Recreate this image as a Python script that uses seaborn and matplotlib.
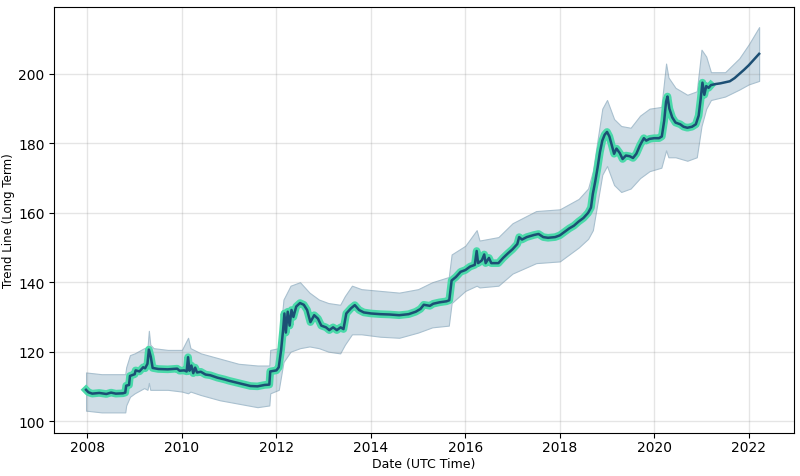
import numpy as np
import pandas as pd
import seaborn as sns
import matplotlib
matplotlib.use("Agg")
import matplotlib.pyplot as plt

# fitted trend (decimal year, value)
fit_years = [2007.97, 2008.02, 2008.10, 2008.25, 2008.40, 2008.50, 2008.60, 2008.75, 2008.80, 2008.82,
             2008.88, 2008.90, 2009.00, 2009.02, 2009.10, 2009.18, 2009.22, 2009.27, 2009.30, 2009.34,
             2009.38, 2009.50, 2009.70, 2009.90, 2009.95, 2010.05, 2010.10, 2010.13, 2010.16, 2010.20,
             2010.24, 2010.28, 2010.32, 2010.40, 2010.50, 2010.60, 2010.75, 2010.90, 2011.00, 2011.15,
             2011.30, 2011.45, 2011.60, 2011.75, 2011.85, 2011.87, 2012.00, 2012.05, 2012.10, 2012.14,
             2012.17, 2012.20, 2012.24, 2012.28, 2012.32, 2012.36, 2012.42, 2012.50, 2012.58, 2012.65,
             2012.72, 2012.80, 2012.88, 2012.95, 2013.05, 2013.12, 2013.20, 2013.28, 2013.36, 2013.42,
             2013.48, 2013.58, 2013.66, 2013.75, 2013.85, 2014.00, 2014.20, 2014.40, 2014.60, 2014.80,
             2014.95, 2015.05, 2015.12, 2015.25, 2015.32, 2015.45, 2015.60, 2015.66, 2015.71, 2015.80,
             2015.90, 2016.00, 2016.10, 2016.20, 2016.24, 2016.27, 2016.35, 2016.40, 2016.43, 2016.50,
             2016.55, 2016.70, 2016.80, 2016.90, 2017.00, 2017.10, 2017.14, 2017.20, 2017.30, 2017.45,
             2017.55, 2017.65, 2017.75, 2017.90, 2018.00, 2018.10, 2018.20, 2018.30, 2018.40, 2018.50,
             2018.60, 2018.66, 2018.70, 2018.75, 2018.80, 2018.85, 2018.90, 2018.95, 2019.00, 2019.05,
             2019.10, 2019.15, 2019.20, 2019.27, 2019.33, 2019.40, 2019.48, 2019.55, 2019.62, 2019.70,
             2019.78, 2019.83, 2019.90, 2020.00, 2020.10, 2020.16, 2020.21, 2020.25, 2020.28, 2020.32,
             2020.38, 2020.45, 2020.55, 2020.62, 2020.70, 2020.80, 2020.88, 2020.94, 2020.98, 2021.02,
             2021.06, 2021.10, 2021.15, 2021.20]
fit_values = [109.0, 108.3, 107.9, 108.1, 107.8, 108.2, 107.9, 108.0, 108.2, 110.2,
              110.4, 113.0, 113.5, 114.6, 114.3, 115.5, 115.2, 116.5, 120.6, 118.5,
              115.3, 115.0, 114.9, 115.1, 114.5, 114.6, 114.3, 118.4, 114.5, 116.0,
              113.8, 115.4, 114.0, 114.2, 113.4, 113.2, 112.5, 112.0, 111.6, 111.1,
              110.6, 110.1, 110.0, 110.4, 110.5, 114.3, 114.6, 115.5, 120.5, 126.0,
              131.0, 125.5, 131.5, 127.5, 132.0, 130.0, 133.0, 134.0, 133.5, 132.0,
              128.5, 130.5, 129.5, 127.5, 127.0, 126.2, 127.0, 126.2, 127.0, 126.5,
              131.0, 132.5, 133.4, 132.0, 131.3, 131.0, 130.8, 130.7, 130.5, 130.8,
              131.5, 132.3, 133.5, 133.2, 133.8, 134.2, 134.5, 134.8, 140.5, 141.5,
              143.0, 143.5, 144.5, 145.0, 149.0, 145.5, 146.3, 148.0, 145.5, 147.0,
              145.5, 145.5, 147.0, 148.3, 149.5, 151.0, 153.0, 152.3, 153.0, 153.6,
              153.9, 153.0, 152.8, 153.0, 153.5, 154.5, 155.5, 156.3, 157.5, 158.5,
              160.0, 161.5, 165.5, 169.0, 173.0, 177.5, 180.8, 182.5, 183.3, 182.0,
              179.5, 177.0, 178.5, 177.2, 175.5, 176.5, 176.3, 175.8, 177.0, 179.5,
              181.5, 180.8, 181.3, 181.5, 181.5, 182.0, 186.5, 192.0, 193.5, 190.0,
              187.5, 186.0, 185.5, 184.8, 184.5, 184.8, 185.5, 188.0, 192.5, 197.5,
              194.0, 196.5, 196.0, 196.8]

# forecast trend
fc_years = [2021.20, 2021.30, 2021.40, 2021.50, 2021.60, 2021.70, 2021.80, 2021.90, 2022.00, 2022.10, 2022.22]
fc_values = [196.8, 197.1, 197.3, 197.6, 197.9, 198.8, 200.0, 201.2, 202.5, 204.0, 205.8]

# uncertainty band
band_years = [2007.97, 2008.30, 2008.80, 2008.82, 2008.90, 2009.00, 2009.20, 2009.27, 2009.30, 2009.33,
              2009.40, 2009.70, 2010.00, 2010.13, 2010.18, 2010.40, 2010.80, 2011.20, 2011.60, 2011.85,
              2011.87, 2012.05, 2012.15, 2012.30, 2012.50, 2012.70, 2012.90, 2013.10, 2013.35, 2013.45,
              2013.60, 2013.80, 2014.20, 2014.60, 2015.00, 2015.30, 2015.65, 2015.71, 2016.00, 2016.24,
              2016.30, 2016.70, 2017.00, 2017.50, 2018.00, 2018.40, 2018.60, 2018.70, 2018.80, 2018.90,
              2019.00, 2019.15, 2019.30, 2019.50, 2019.70, 2019.90, 2020.15, 2020.25, 2020.30, 2020.45,
              2020.70, 2020.90, 2021.00, 2021.10, 2021.20, 2021.50, 2021.80, 2022.00, 2022.22]
band_lower = [103.0, 102.5, 102.5, 104.5, 107.0, 108.0, 109.5, 109.0, 111.0, 109.0,
              109.0, 109.0, 108.5, 108.0, 108.5, 107.5, 106.0, 105.0, 104.0, 104.5,
              108.0, 109.0, 117.0, 120.0, 121.0, 121.5, 121.0, 120.0, 119.5, 122.0,
              125.0, 125.0, 124.3, 124.0, 125.5, 127.0, 127.5, 134.0, 137.5, 139.0,
              138.5, 139.0, 142.5, 145.5, 146.0, 150.0, 152.5, 155.0, 163.0, 171.0,
              173.5, 168.0, 166.0, 167.0, 170.0, 172.0, 173.0, 178.0, 176.0, 176.0,
              175.0, 176.0, 185.0, 190.0, 192.5, 193.5, 195.5, 197.0, 198.0]
band_upper = [114.0, 113.5, 113.5, 115.5, 119.0, 119.5, 121.0, 121.0, 126.0, 122.0,
              121.0, 120.5, 120.5, 124.0, 121.0, 119.5, 118.0, 116.5, 116.0, 116.0,
              120.5, 121.0, 135.0, 139.0, 140.0, 137.0, 135.0, 134.0, 133.5, 136.0,
              139.0, 138.0, 137.5, 137.0, 138.0, 140.0, 141.5, 148.0, 150.5, 155.0,
              152.0, 153.0, 157.0, 160.5, 161.0, 164.0, 167.0, 172.0, 181.0, 190.0,
              192.5, 187.0, 185.0, 184.5, 188.0, 190.0, 190.5, 203.0, 199.0, 196.0,
              194.0, 195.0, 207.0, 205.0, 200.5, 200.5, 204.5, 208.5, 213.5]

fit_df = pd.DataFrame({"year": fit_years, "trend": fit_values})
all_df = pd.DataFrame({"year": fit_years + fc_years[1:], "trend": fit_values + fc_values[1:]})

fig, ax = plt.subplots(figsize=(8, 4.77), dpi=100)

# uncertainty band
ax.fill_between(band_years, band_lower, band_upper, color="#cfdde6", edgecolor="#a9c0cf",
                linewidth=0.8, zorder=1)

# fitted part highlighted, then the full trend on top
sns.lineplot(data=fit_df, x="year", y="trend", ax=ax, color="#4ad9a9", linewidth=5.5,
             sort=False, zorder=2)
sns.lineplot(data=all_df, x="year", y="trend", ax=ax, color="#1c4f74", linewidth=1.8,
             sort=False, zorder=3)

ax.grid(True, which="major", color="gray", linestyle="-", linewidth=1, alpha=0.2)
ax.set_xlim(2007.30, 2022.95)
ax.set_ylim(96.54, 219.4)
ax.set_xticks([2008, 2010, 2012, 2014, 2016, 2018, 2020, 2022])
ax.set_xticklabels(["2008", "2010", "2012", "2014", "2016", "2018", "2020", "2022"])
ax.set_yticks([100, 120, 140, 160, 180, 200])
ax.tick_params(axis="both", labelsize=10)
ax.tick_params(axis="x", length=3.5, pad=1.5)
ax.set_xlabel("Date (UTC Time)", fontsize=9, labelpad=2)
ax.set_ylabel("Trend Line (Long Term)", fontsize=8.5, labelpad=2)

fig.subplots_adjust(left=0.068, right=0.992, top=0.984, bottom=0.09)
fig.savefig("out.png", dpi=100)
